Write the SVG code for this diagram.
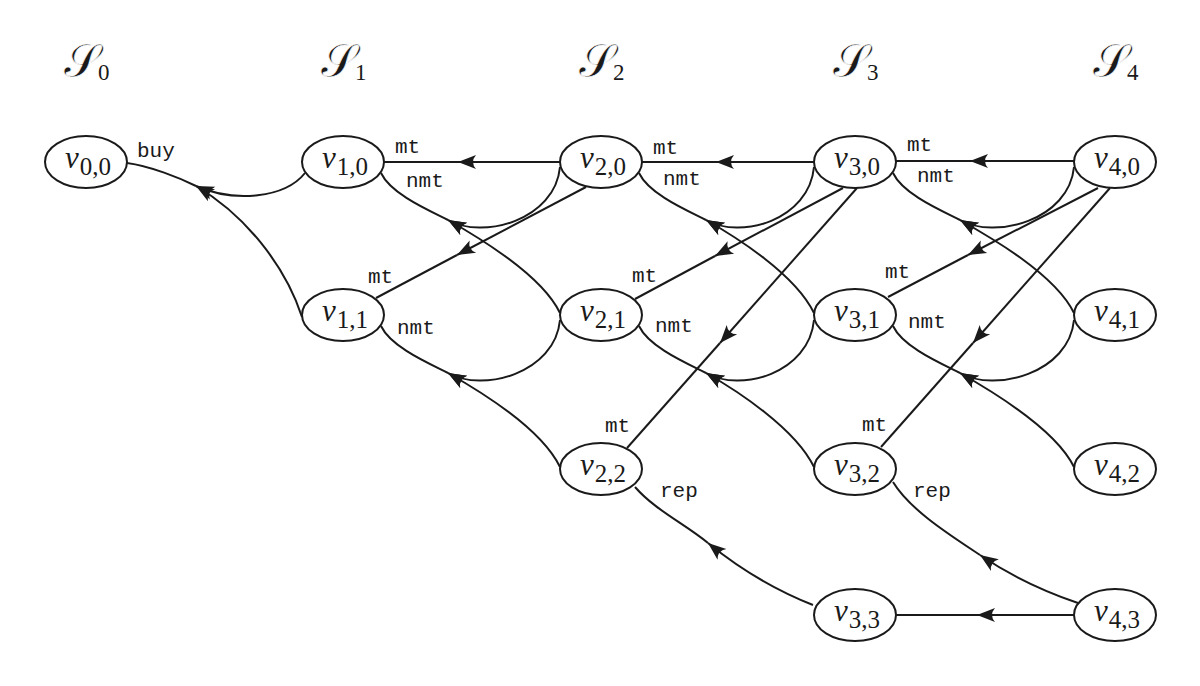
<svg xmlns="http://www.w3.org/2000/svg" width="1200" height="686" viewBox="0 0 1200 686">
<defs>
<marker id="ah" markerUnits="userSpaceOnUse" markerWidth="22" markerHeight="18" viewBox="-20 -9 22 18" refX="0" refY="0" orient="auto">
<path d="M0,0 L-18,-7 Q-12,0 -18,7 Z" fill="#1a1a1a"/>
</marker>
<style>
.e{fill:none;stroke:#1a1a1a;stroke-width:2}
.a{marker-end:url(#ah)}
.n{fill:#fff;stroke:#1a1a1a;stroke-width:2}
.v{font-family:"Liberation Serif",serif;font-style:italic;font-size:31px;fill:#1a1a1a}
.s{font-family:"Liberation Serif",serif;font-style:normal;font-size:25px}
.l{font-family:"Liberation Mono",monospace;font-size:21px;fill:#1a1a1a}
.h{font-family:"DejaVu Sans","DejaVu Serif","Noto Sans",serif;font-size:46px;fill:#1a1a1a;stroke:#fff;stroke-width:0.7px}
.hs{font-family:"Liberation Serif",serif;font-size:23px;stroke:none}
</style>
</defs>
<rect width="1200" height="686" fill="#fff"/>
<g id="headers">
<text class="h" x="64" y="77">𝒮<tspan class="hs" x="98" y="80">0</tspan></text>
<text class="h" x="321" y="77">𝒮<tspan class="hs" x="355" y="80">1</tspan></text>
<text class="h" x="579" y="77">𝒮<tspan class="hs" x="613" y="80">2</tspan></text>
<text class="h" x="833" y="77">𝒮<tspan class="hs" x="867" y="80">3</tspan></text>
<text class="h" x="1093" y="77">𝒮<tspan class="hs" x="1127" y="80">4</tspan></text>
</g>
<g id="connectors">
<path class="e" d="M196,186 C180,178 150,166 127,163"/>
<path class="e a" d="M305,173 C285,198 235,203 196,186"/>
<path class="e a" d="M302,317 C285,265 245,215 196,186"/>
<path class="e a" d="M560,162 L458,162"/><path class="e" d="M458,162 L384,162"/>
<path class="e a" d="M814,162 L716,162"/><path class="e" d="M716,162 L642,162"/>
<path class="e a" d="M1074,161 L970,161"/><path class="e" d="M970,161 L896,161"/>
<path class="e a" d="M1074,615 L977,615"/><path class="e" d="M977,615 L896,615"/>
<path class="e a" d="M586,187 L457,255"/><path class="e" d="M457,255 L376,298"/>
<path class="e a" d="M843,188 L715,256"/><path class="e" d="M715,256 L635,299"/>
<path class="e a" d="M1098,188 L968,255"/><path class="e" d="M968,255 L888,297"/>
<path class="e a" d="M857,188 L720,343"/><path class="e" d="M720,343 L627,448"/>
<path class="e a" d="M1110,188 L973,343"/><path class="e" d="M973,343 L881,447"/>
<path class="e" d="M448,220 C428,210 391,194 381,173"/>
<path class="e a" d="M560,167 C555,220 483,240 448,220"/>
<path class="e a" d="M560,313 C541,274 478,237 448,220"/>
<path class="e" d="M448,373 C428,363 391,347 381,326"/>
<path class="e a" d="M560,320 C555,373 483,393 448,373"/>
<path class="e a" d="M560,467 C541,428 478,390 448,373"/>
<path class="e" d="M706,220 C686,210 649,194 639,173"/>
<path class="e a" d="M814,167 C809,220 741,240 706,220"/>
<path class="e a" d="M814,313 C795,274 736,237 706,220"/>
<path class="e" d="M706,373 C686,363 649,347 639,326"/>
<path class="e a" d="M814,320 C809,373 741,393 706,373"/>
<path class="e a" d="M814,467 C795,428 736,390 706,373"/>
<path class="e" d="M960,220 C940,210 903,194 893,173"/>
<path class="e a" d="M1074,167 C1069,220 995,240 960,220"/>
<path class="e a" d="M1074,313 C1055,274 990,237 960,220"/>
<path class="e" d="M960,373 C940,363 903,347 893,326"/>
<path class="e a" d="M1074,320 C1069,373 995,393 960,373"/>
<path class="e a" d="M1074,467 C1055,428 990,390 960,373"/>
<path class="e a" d="M813,605 C770,588 735,565 708,543"/>
<path class="e" d="M708,543 C685,524 655,510 635,487"/>
<path class="e a" d="M1078,603 C1040,590 1005,572 980,555"/>
<path class="e" d="M980,555 C950,535 910,510 893,482"/>
</g>
<g id="edge-labels">
<text class="l" x="137" y="157">buy</text>
<text class="l" x="395" y="153">mt</text>
<text class="l" x="406" y="187">nmt</text>
<text class="l" x="368" y="283">mt</text>
<text class="l" x="397" y="334">nmt</text>
<text class="l" x="653" y="154">mt</text>
<text class="l" x="663" y="185">nmt</text>
<text class="l" x="632" y="282">mt</text>
<text class="l" x="655" y="332">nmt</text>
<text class="l" x="605" y="432">mt</text>
<text class="l" x="660" y="497">rep</text>
<text class="l" x="907" y="151">mt</text>
<text class="l" x="917" y="182">nmt</text>
<text class="l" x="885" y="278">mt</text>
<text class="l" x="908" y="328">nmt</text>
<text class="l" x="862" y="431">mt</text>
<text class="l" x="913" y="497">rep</text>
</g>
<g id="v00"><ellipse class="n" cx="86" cy="162" rx="41" ry="26"/><text class="v" x="65" y="168">v<tspan class="s" dx="1" dy="7">0,0</tspan></text></g>
<g id="v10"><ellipse class="n" cx="343" cy="162" rx="41" ry="26"/><text class="v" x="322" y="168">v<tspan class="s" dx="1" dy="7">1,0</tspan></text></g>
<g id="v11"><ellipse class="n" cx="343" cy="315" rx="41" ry="26"/><text class="v" x="322" y="321">v<tspan class="s" dx="1" dy="7">1,1</tspan></text></g>
<g id="v20"><ellipse class="n" cx="601" cy="162" rx="41" ry="26"/><text class="v" x="580" y="168">v<tspan class="s" dx="1" dy="7">2,0</tspan></text></g>
<g id="v21"><ellipse class="n" cx="601" cy="315" rx="41" ry="26"/><text class="v" x="580" y="321">v<tspan class="s" dx="1" dy="7">2,1</tspan></text></g>
<g id="v22"><ellipse class="n" cx="601" cy="469" rx="41" ry="26"/><text class="v" x="580" y="475">v<tspan class="s" dx="1" dy="7">2,2</tspan></text></g>
<g id="v30"><ellipse class="n" cx="855" cy="162" rx="41" ry="26"/><text class="v" x="834" y="168">v<tspan class="s" dx="1" dy="7">3,0</tspan></text></g>
<g id="v31"><ellipse class="n" cx="855" cy="315" rx="41" ry="26"/><text class="v" x="834" y="321">v<tspan class="s" dx="1" dy="7">3,1</tspan></text></g>
<g id="v32"><ellipse class="n" cx="855" cy="469" rx="41" ry="26"/><text class="v" x="834" y="475">v<tspan class="s" dx="1" dy="7">3,2</tspan></text></g>
<g id="v33"><ellipse class="n" cx="855" cy="615" rx="41" ry="26"/><text class="v" x="834" y="621">v<tspan class="s" dx="1" dy="7">3,3</tspan></text></g>
<g id="v40"><ellipse class="n" cx="1115" cy="162" rx="41" ry="26"/><text class="v" x="1094" y="168">v<tspan class="s" dx="1" dy="7">4,0</tspan></text></g>
<g id="v41"><ellipse class="n" cx="1115" cy="315" rx="41" ry="26"/><text class="v" x="1094" y="321">v<tspan class="s" dx="1" dy="7">4,1</tspan></text></g>
<g id="v42"><ellipse class="n" cx="1115" cy="469" rx="41" ry="26"/><text class="v" x="1094" y="475">v<tspan class="s" dx="1" dy="7">4,2</tspan></text></g>
<g id="v43"><ellipse class="n" cx="1115" cy="615" rx="41" ry="26"/><text class="v" x="1094" y="621">v<tspan class="s" dx="1" dy="7">4,3</tspan></text></g>
</svg>
